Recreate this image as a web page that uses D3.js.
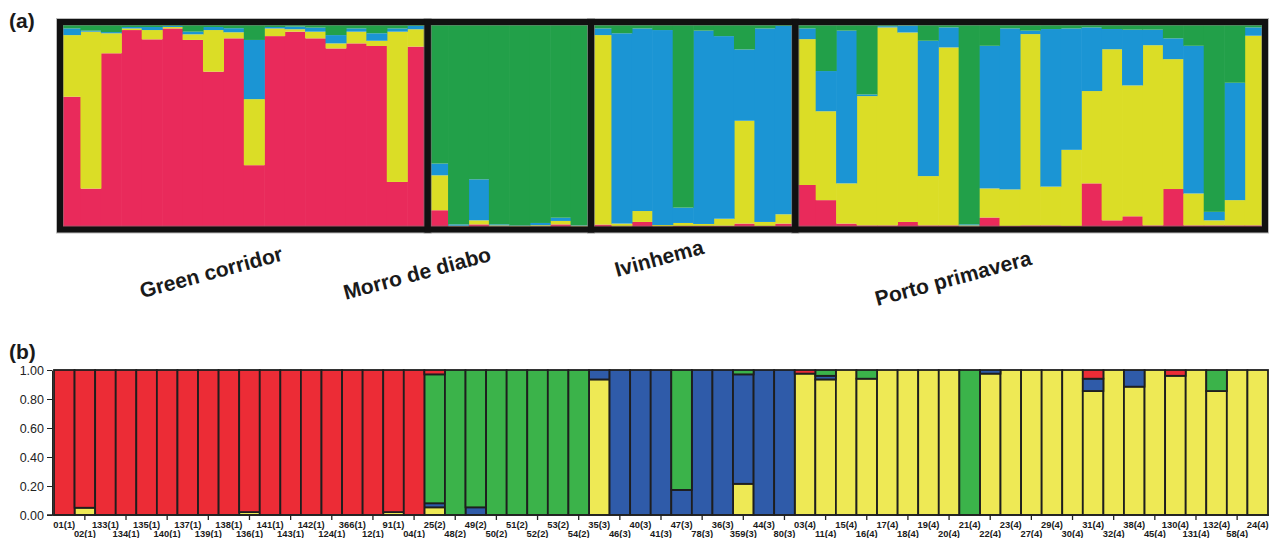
<!DOCTYPE html>
<html>
<head>
<meta charset="utf-8">
<script src="https://cdn.jsdelivr.net/npm/d3@7/dist/d3.min.js"></script>
<style>
  body { margin: 0; background: #fff; }
  svg { display: block; }
</style>
</head>
<body>
<div id="chart"></div>
<script>
// individuals, (n) = population
const ids = ["01(1)","02(1)","133(1)","134(1)","135(1)","140(1)","137(1)","139(1)","138(1)","136(1)","141(1)","143(1)","142(1)","124(1)","366(1)","12(1)","91(1)","04(1)",
  "25(2)","48(2)","49(2)","50(2)","51(2)","52(2)","53(2)","54(2)",
  "35(3)","46(3)","40(3)","41(3)","47(3)","78(3)","36(3)","359(3)","44(3)","80(3)",
  "03(4)","11(4)","15(4)","16(4)","17(4)","18(4)","19(4)","20(4)","21(4)","22(4)","23(4)","27(4)","29(4)","30(4)","31(4)","32(4)","38(4)","45(4)","130(4)","131(4)","132(4)","58(4)","24(4)"];
const groupNames = ["Green corridor", "Morro de diabo", "Ivinhema", "Porto primavera"];

// panel (a) membership, bottom -> top : red, yellow, blue, green
const aRed = [.645,.19,.86,.975,.929,.983,.926,.769,.934,.306,.945,.967,.934,.884,.909,.896,.223,.893,
  .083,.003,.013,.003,.002,.003,.013,.002,
  .012,.003,.025,.003,.005,.005,.006,.017,.005,.017,
  .208,.133,.017,.008,.008,.025,.008,.008,.003,.047,.005,.008,.008,.005,.216,.033,.053,.008,.188,.008,.008,.008,.008];
const aYellow = [.305,.777,.099,.008,.046,.007,.028,.206,.03,.327,.038,.012,.033,.025,.058,.026,.744,.086,
  .173,.003,.02,.005,.003,.006,.017,.004,
  .938,.014,.054,.007,.015,.01,.035,.509,.02,.046,
  .722,.44,.199,.64,.98,.938,.244,.881,.005,.144,.181,.947,.192,.377,.457,.847,.648,.892,.643,.158,.025,.125,.939];
const aBlue = [.033,.005,.006,.007,.015,.005,.013,.015,.02,.293,.007,.013,.02,.041,.016,.037,.016,.016,
  .058,.007,.203,.005,.002,.011,.016,.002,
  .033,.942,.904,.965,.076,.957,.904,.353,.958,.932,
  .053,.199,.756,.008,.006,.034,.67,.099,.005,.706,.797,.017,.78,.601,.315,.1,.276,.077,.103,.731,.042,.581,.041];
const aGreen = [.017,.028,.035,.010,.010,.005,.033,.010,.016,.074,.010,.008,.013,.05,.017,.041,.017,.005,
  .686,.987,.764,.987,.993,.98,.954,.992,
  .017,.041,.017,.025,.904,.028,.055,.121,.017,.005,
  .017,.228,.028,.344,.006,.003,.078,.012,.987,.103,.017,.028,.02,.017,.012,.02,.023,.023,.066,.103,.925,.286,.012];

// panel (b) membership, bottom -> top : yellow, blue, green, red
const bYellow = [0,.05,0,0,0,0,0,0,0,.02,0,0,0,0,0,0,.02,0,
  .053,0,0,0,0,0,0,0,
  .935,0,0,0,0,0,0,.215,0,0,
  .975,.935,1,.94,1,1,1,1,0,.975,1,1,1,1,.855,1,.885,1,.96,1,.855,1,1];
const bBlue = [0,0,0,0,0,0,0,0,0,0,0,0,0,0,0,0,0,0,
  .028,0,.053,0,0,0,0,0,
  .065,1,1,1,.173,1,1,.755,1,1,
  0,.025,0,0,0,0,0,0,0,.025,0,0,0,0,.085,0,.115,0,0,0,0,0,0];
const bGreen = [0,0,0,0,0,0,0,0,0,0,0,0,0,0,0,0,0,0,
  .889,1,.947,1,1,1,1,1,
  0,0,0,0,.827,0,0,.03,0,0,
  0,.04,0,.06,0,0,0,0,1,0,0,0,0,0,0,0,0,0,0,0,.145,0,0];
const bRed = [1,.95,1,1,1,1,1,1,1,.98,1,1,1,1,1,1,.98,1,
  .03,0,0,0,0,0,0,0,
  0,0,0,0,0,0,0,0,0,0,
  .025,0,0,0,0,0,0,0,0,0,0,0,0,0,.06,0,0,0,.04,0,0,0,0];

const yTicks = [0, 0.2, 0.4, 0.6, 0.8, 1.0];

const width = 1275, height = 538;
const svg = d3.select("#chart").append("svg")
    .attr("width", width)
    .attr("height", height);

const groupOf = d => +d.match(/\((\d)\)/)[1] - 1;

// ---------- panel (a) ----------
const aKeys = ["red", "yellow", "blue", "green"];
const aColor = {red: "#e92a5b", yellow: "#dbdd26", blue: "#1b95d4", green: "#22a049"};
const aRows = ids.map((id, i) => ({id, red: aRed[i], yellow: aYellow[i], blue: aBlue[i], green: aGreen[i]}));

const xa = d3.scaleBand().domain(ids).range([60, 1265]).padding(0);
const ya = d3.scaleLinear().domain([0, 1]).range([227, 25]);

const gA = svg.append("g");
gA.selectAll("g.layer")
  .data(d3.stack().keys(aKeys)(aRows))
  .enter().append("g")
    .attr("fill", d => aColor[d.key])
  .selectAll("rect")
  .data(d => d)
  .enter().append("rect")
    .attr("x", d => xa(d.data.id))
    .attr("y", d => ya(d[1]))
    .attr("width", xa.bandwidth() + 0.6)
    .attr("height", d => Math.max(0, ya(d[0]) - ya(d[1])));

// boxes round each population
const groups = groupNames.map((name, g) => {
  const members = ids.filter(d => groupOf(d) === g);
  return {name, x0: xa(members[0]), x1: xa(members[members.length - 1]) + xa.bandwidth()};
});
gA.selectAll("rect.shadow")
  .data(groups)
  .enter().append("rect")
    .attr("x", d => d.x0).attr("y", ya(1) - 3)
    .attr("width", d => d.x1 - d.x0).attr("height", ya(0) - ya(1) + 5.5)
    .attr("fill", "none").attr("stroke", "#777").attr("stroke-width", 8).attr("opacity", 0.5);
gA.selectAll("rect.box")
  .data(groups)
  .enter().append("rect")
    .attr("x", d => d.x0).attr("y", ya(1) - 3)
    .attr("width", d => d.x1 - d.x0).attr("height", ya(0) - ya(1) + 5.5)
    .attr("fill", "none").attr("stroke", "#111").attr("stroke-width", 6);

// population names, tilted
const labelPos = [[211, 272], [417, 273], [659, 258], [953, 278]];
gA.selectAll("text.pop")
  .data(groups)
  .enter().append("text")
    .attr("transform", (d, i) => "translate(" + labelPos[i][0] + "," + labelPos[i][1] + ") rotate(-15)")
    .attr("text-anchor", "middle")
    .attr("dominant-baseline", "central")
    .style("font-family", "'Liberation Sans', Arial, sans-serif")
    .style("font-weight", "bold")
    .style("font-size", "21px")
    .attr("fill", "#1a1a1a")
    .text(d => d.name);

svg.append("text")
  .attr("x", 9).attr("y", 28)
  .style("font-family", "'Liberation Sans', Arial, sans-serif")
  .style("font-weight", "bold").style("font-size", "21px")
  .attr("fill", "#1a1a1a")
  .text("(a)");

// ---------- panel (b) ----------
const bKeys = ["yellow", "blue", "green", "red"];
const bColor = {yellow: "#eee955", blue: "#2f5ba9", green: "#3bb34a", red: "#ec2c36"};
const bRows = ids.map((id, i) => ({id, yellow: bYellow[i], blue: bBlue[i], green: bGreen[i], red: bRed[i]}));

const xb = d3.scaleBand().domain(ids).range([54, 1268]).padding(0);
const yb = d3.scaleLinear().domain([0, 1]).range([515, 370]);

const gB = svg.append("g");
gB.selectAll("g.layer")
  .data(d3.stack().keys(bKeys)(bRows))
  .enter().append("g")
    .attr("fill", d => bColor[d.key])
  .selectAll("rect")
  .data(d => d.filter(s => s[1] - s[0] > 0))
  .enter().append("rect")
    .attr("x", d => xb(d.data.id))
    .attr("y", d => yb(d[1]))
    .attr("width", xb.bandwidth())
    .attr("height", d => yb(d[0]) - yb(d[1]))
    .attr("stroke", "#1e1e1e")
    .attr("stroke-width", 1.8);

// y axis
const yAxis = gB.append("g")
  .attr("transform", "translate(52,0)")
  .call(d3.axisLeft(yb).tickValues(yTicks).tickFormat(d3.format(".2f")).tickSize(5).tickSizeOuter(0));
yAxis.select(".domain").attr("stroke", "#222");
yAxis.selectAll(".tick line").attr("stroke", "#222");
yAxis.selectAll("text")
  .style("font-family", "'Liberation Sans', Arial, sans-serif")
  .style("font-size", "12.5px")
  .attr("fill", "#222");

// baseline
gB.append("line")
  .attr("x1", 47).attr("x2", xb.range()[1] + 1)
  .attr("y1", yb(0)).attr("y2", yb(0))
  .attr("stroke", "#222").attr("stroke-width", 1.5);

// ticks above the lower label row
gB.selectAll("line.tk")
  .data(ids.filter((d, i) => i % 2 === 1))
  .enter().append("line")
    .attr("x1", d => xb(d) + xb.bandwidth() / 2)
    .attr("x2", d => xb(d) + xb.bandwidth() / 2)
    .attr("y1", yb(0)).attr("y2", yb(0) + 5)
    .attr("stroke", "#222").attr("stroke-width", 1.3);

// individual labels in two staggered rows
gB.selectAll("text.id")
  .data(ids)
  .enter().append("text")
    .attr("x", d => xb(d) + xb.bandwidth() / 2)
    .attr("y", (d, i) => i % 2 === 0 ? 527.5 : 536.5)
    .attr("text-anchor", "middle")
    .style("font-family", "'Liberation Sans', Arial, sans-serif")
    .style("font-weight", "bold")
    .style("font-size", "9.4px")
    .attr("fill", "#1a1a1a")
    .text(d => d);

svg.append("text")
  .attr("x", 9).attr("y", 359)
  .style("font-family", "'Liberation Sans', Arial, sans-serif")
  .style("font-weight", "bold").style("font-size", "21px")
  .attr("fill", "#1a1a1a")
  .text("(b)");
</script>
</body>
</html>
